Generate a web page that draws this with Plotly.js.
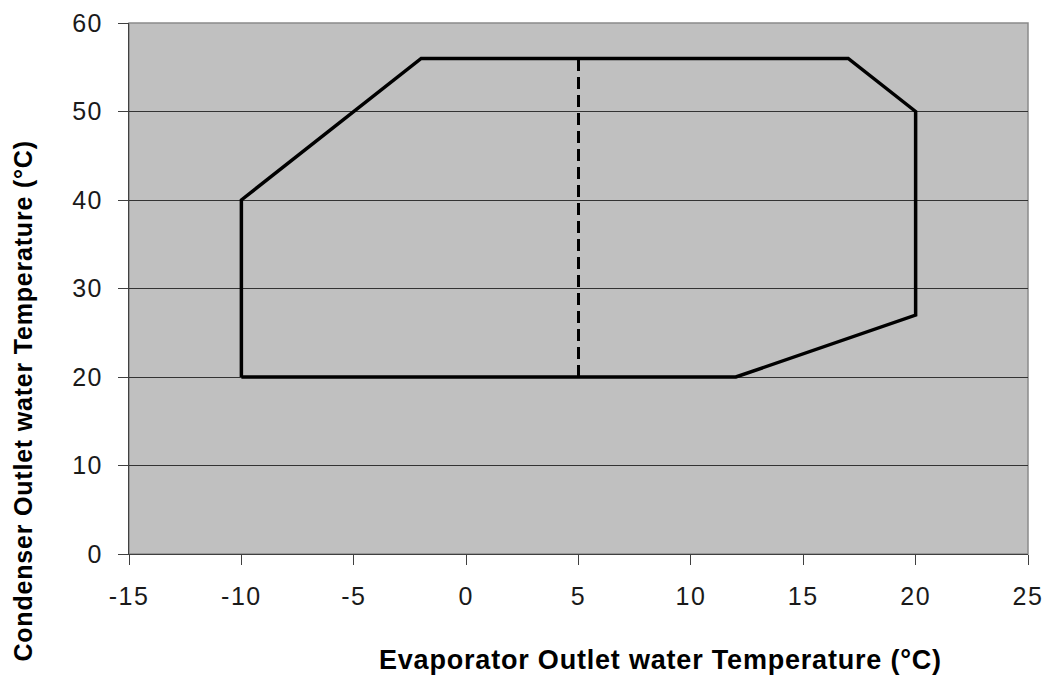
<!DOCTYPE html>
<html>
<head>
<meta charset="utf-8">
<script src="https://cdn.plot.ly/plotly-3.0.1.min.js"></script>
<style>
html,body{margin:0;padding:0;background:#fff;}
#chart{width:1051px;height:677px;}
#chart .xtick text, #chart .ytick text{letter-spacing:1.5px;}
#chart .annotation-text{letter-spacing:0.8px;}
</style>
</head>
<body>
<div id="chart"></div>
<script>
// Operating envelope outline (evaporator outlet °C, condenser outlet °C)
const envelopeX = [-10, -10, -2, 17, 20, 20, 12, -10];
const envelopeY = [20, 40, 56, 56, 50, 27, 20, 20];
// Dashed divider line
const dividerX = [5, 5];
const dividerY = [20, 56];
// Axis ticks
const xTicks = [-15, -10, -5, 0, 5, 10, 15, 20, 25];
const yTicks = [0, 10, 20, 30, 40, 50, 60];

const traces = [
  {
    x: envelopeX, y: envelopeY, type: 'scatter', mode: 'lines',
    line: {color: '#000000', width: 3.5}, hoverinfo: 'skip'
  },
  {
    x: dividerX, y: dividerY, type: 'scatter', mode: 'lines',
    line: {color: '#000000', width: 3, dash: '12px,6px'}, hoverinfo: 'skip'
  }
];

const font = 'Liberation Sans, Arial, sans-serif';

const layout = {
  width: 1051, height: 677,
  margin: {l: 129, r: 23, t: 23, b: 123},
  paper_bgcolor: '#ffffff',
  plot_bgcolor: '#c0c0c0',
  showlegend: false,
  font: {family: font, color: '#000000'},
  xaxis: {
    range: [-15, 25], tickvals: xTicks, ticktext: xTicks.map(String),
    showgrid: false, zeroline: false,
    showline: true, linecolor: '#404040', linewidth: 1,
    ticks: 'outside', ticklen: 10, tickcolor: '#404040', tickwidth: 1,
    tickfont: {family: font, size: 25, color: '#1a1a1a'},
    ticklabelstandoff: 10,
    fixedrange: true
  },
  yaxis: {
    range: [0, 60], tickvals: yTicks, ticktext: yTicks.map(String),
    showgrid: true, gridcolor: '#333333', gridwidth: 1,
    zeroline: false,
    showline: true, linecolor: '#404040', linewidth: 1,
    ticks: 'outside', ticklen: 10, tickcolor: '#404040', tickwidth: 1,
    tickfont: {family: font, size: 25, color: '#1a1a1a'},
    ticklabelstandoff: 10,
    fixedrange: true
  },
  shapes: [
    {type: 'rect', xref: 'paper', yref: 'paper', x0: 0, x1: 1, y0: 0, y1: 1,
     line: {color: '#8a8a8a', width: 1.5}, layer: 'below'}
  ],
  annotations: [
    {text: '<b>Evaporator Outlet water Temperature (°C)</b>',
     xref: 'paper', yref: 'paper', x: 0.5907, y: -0.1996,
     xanchor: 'center', yanchor: 'middle', showarrow: false,
     font: {family: font, size: 27, color: '#000'}},
    {text: '<b>Condenser Outlet water Temperature (°C)</b>',
     xref: 'paper', yref: 'paper', x: -0.118, y: 0.288,
     xanchor: 'center', yanchor: 'middle', textangle: -90, showarrow: false,
     font: {family: font, size: 25, color: '#000'}}
  ]
};

Plotly.newPlot('chart', traces, layout, {displayModeBar: false, staticPlot: true});
</script>
</body>
</html>
